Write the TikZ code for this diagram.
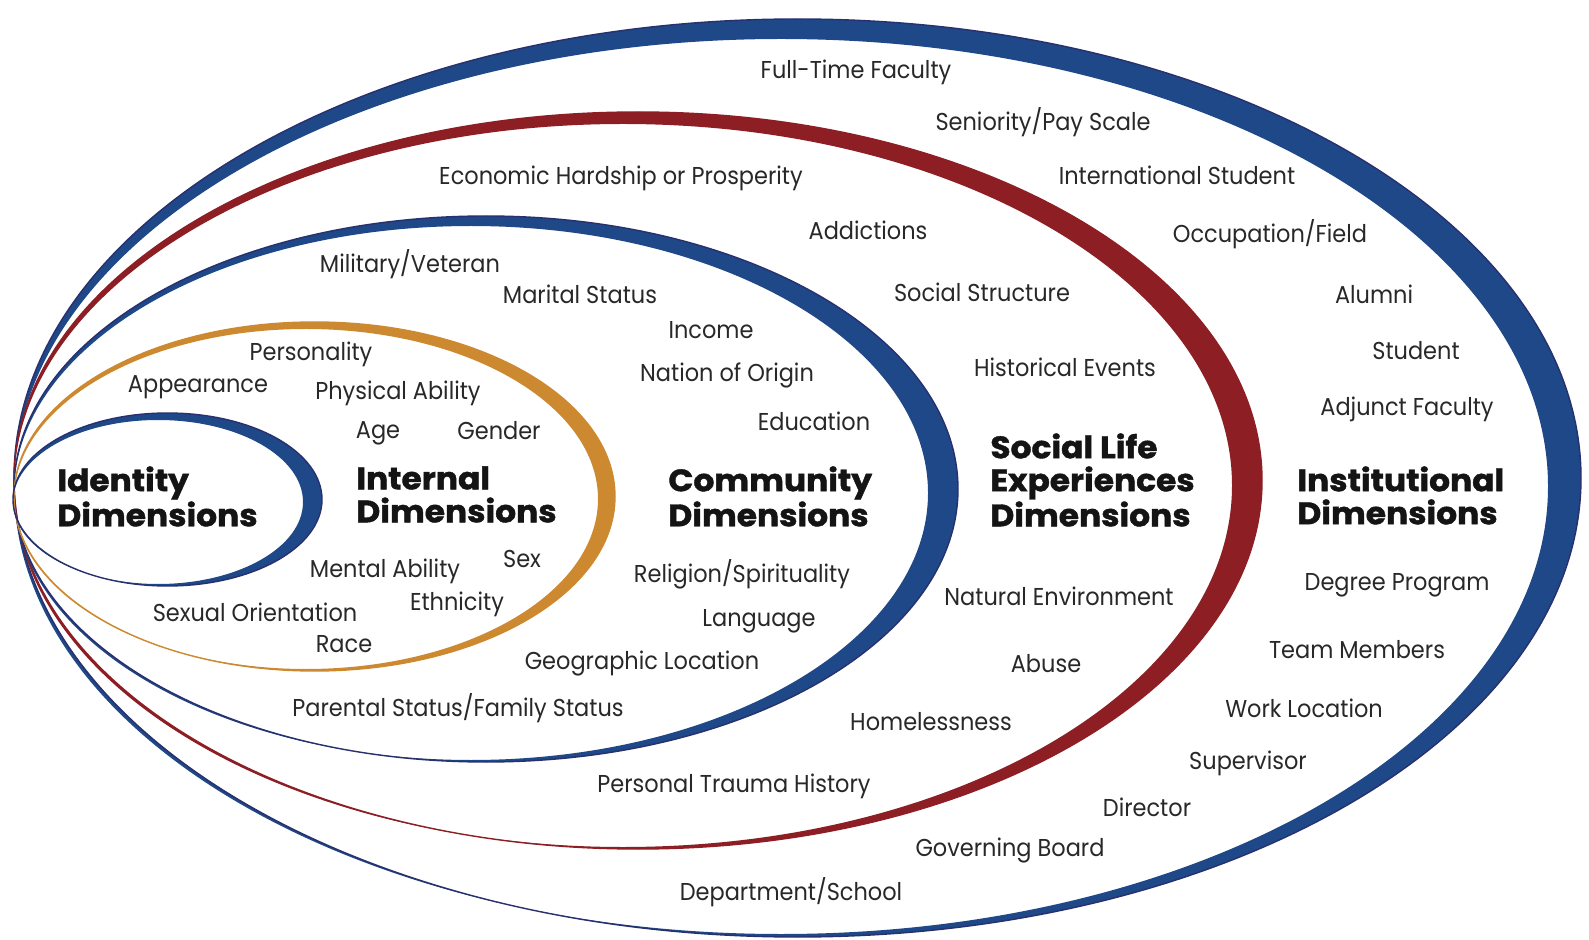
\documentclass[tikz,border=0pt]{standalone}
\usepackage{fontspec}
\newfontfamily\labfont[FakeStretch=0.92]{Poppins}
\newfontfamily\headfont[FakeStretch=1.06,FakeBold=1.3]{Poppins}
\definecolor{navyc}{RGB}{30,72,135}
\definecolor{navyl}{RGB}{40,48,110}
\definecolor{redc}{RGB}{140,30,36}
\definecolor{orangec}{RGB}{205,137,48}
\definecolor{labc}{RGB}{40,40,40}
\definecolor{headc}{RGB}{20,20,20}
\tikzset{
  lab/.style={font=\labfont\fontsize{12.2}{14}\selectfont, text=labc, inner sep=0pt, anchor=center},
  head/.style={font=\headfont\bfseries\fontsize{15.5}{16.5}\selectfont, text=headc, inner sep=0pt, anchor=north west, align=left},
}
\begin{document}
\begin{tikzpicture}[x=0.5pt,y=-0.5pt]
\useasboundingbox[fill=white] (0,0) rectangle (1589,940);
% crescents
\fill[navyc, even odd rule] (797.5,478) ellipse [x radius=783.5, y radius=459] (781,486.5) ellipse [x radius=767, y radius=447.5];
\draw[navyl, line width=0.7pt] (797.5,478) ellipse [x radius=783.5, y radius=459];
\fill[redc, even odd rule] (638,480.5) ellipse [x radius=624, y radius=368.5] (623,485.5) ellipse [x radius=609, y radius=361.5];
\draw[redc, line width=0.7pt] (638,480.5) ellipse [x radius=624, y radius=368.5];
\fill[navyc, even odd rule] (486,489) ellipse [x radius=472, y radius=273] (471,493) ellipse [x radius=457, y radius=267];
\draw[navyl, line width=0.7pt] (486,489) ellipse [x radius=472, y radius=273];
\fill[orangec, even odd rule] (314.5,496.5) ellipse [x radius=300.5, y radius=174.5] (306,499) ellipse [x radius=292, y radius=170];
\draw[orangec, line width=0.7pt] (314.5,496.5) ellipse [x radius=300.5, y radius=174.5];
\fill[navyc, even odd rule] (167.5,499.5) ellipse [x radius=154.5, y radius=86.5] (158,502) ellipse [x radius=145, y radius=82];
\draw[navyl, line width=0.7pt] (167.5,499.5) ellipse [x radius=154.5, y radius=86.5];
% headings
\node[head] (hid) at (57,466) {Identity\\Dimensions};
\node[head] (hint) at (356,466) {Internal\\Dimensions};
\node[head] (hcom) at (668,466) {Community\\Dimensions};
\node[head] (hsoc) at (990,433) {Social Life\\Experiences\\Dimensions};
\node[head] (hins) at (1297,466) {Institutional\\Dimensions};
% labels
\node[lab] (l01) at (856,72) {Full-Time Faculty};
\node[lab] (l02) at (1043,122) {Seniority/Pay Scale};
\node[lab] (l03) at (621,178) {Economic Hardship or Prosperity};
\node[lab] (l04) at (1177,175) {International Student};
\node[lab] (l05) at (868,230) {Addictions};
\node[lab] (l06) at (1270,234) {Occupation/Field};
\node[lab] (l07) at (410,264) {Military/Veteran};
\node[lab] (l08) at (580,294) {Marital Status};
\node[lab] (l09) at (982,292) {Social Structure};
\node[lab] (l10) at (1374,294) {Alumni};
\node[lab] (l11) at (711,330) {Income};
\node[lab] (l12) at (311,354) {Personality};
\node[lab] (l13) at (1416,351) {Student};
\node[lab] (l14) at (727,375) {Nation of Origin};
\node[lab] (l15) at (1065,367) {Historical Events};
\node[lab] (l16) at (198,387) {Appearance};
\node[lab] (l17) at (398,393) {Physical Ability};
\node[lab] (l18) at (1407,409) {Adjunct Faculty};
\node[lab] (l19) at (814,421) {Education};
\node[lab] (l20) at (378,433) {Age};
\node[lab] (l21) at (499,431) {Gender};
\node[lab] (l22) at (522,559) {Sex};
\node[lab] (l23) at (385,571) {Mental Ability};
\node[lab] (l24) at (742,574) {Religion/Spirituality};
\node[lab] (l25) at (1397,585) {Degree Program};
\node[lab] (l26) at (1059,596) {Natural Environment};
\node[lab] (l27) at (457,604) {Ethnicity};
\node[lab] (l28) at (255,612) {Sexual Orientation};
\node[lab] (l29) at (759,621) {Language};
\node[lab] (l30) at (344,644) {Race};
\node[lab] (l31) at (1357,650) {Team Members};
\node[lab] (l32) at (642,664) {Geographic Location};
\node[lab] (l33) at (1046,664) {Abuse};
\node[lab] (l34) at (458,708) {Parental Status/Family Status};
\node[lab] (l35) at (1304,708) {Work Location};
\node[lab] (l36) at (931,722) {Homelessness};
\node[lab] (l37) at (1248,763) {Supervisor};
\node[lab] (l38) at (734,786) {Personal Trauma History};
\node[lab] (l39) at (1147,807) {Director};
\node[lab] (l40) at (1010,851) {Governing Board};
\node[lab] (l41) at (791,892) {Department/School};
\end{tikzpicture}
\end{document}
